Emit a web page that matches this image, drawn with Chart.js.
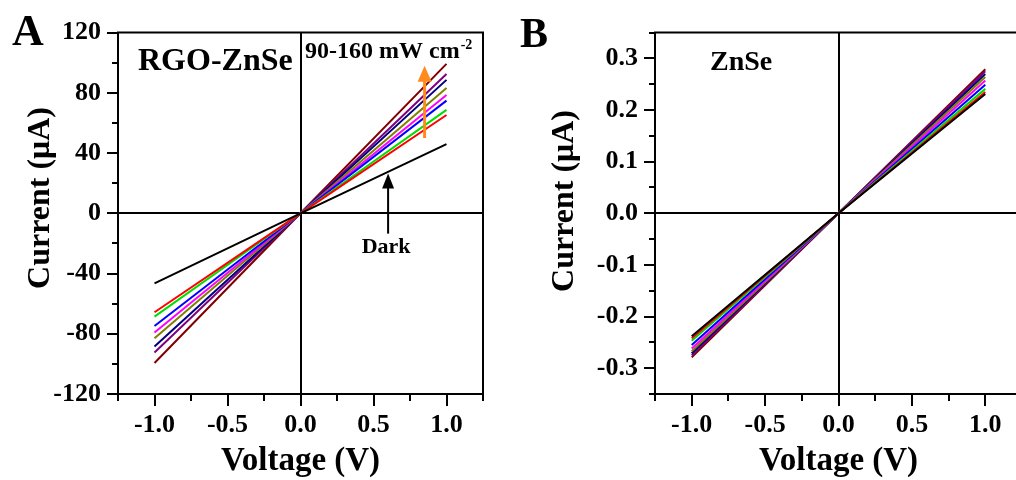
<!DOCTYPE html>
<html>
<head>
<meta charset="utf-8">
<script src="https://cdn.jsdelivr.net/npm/chart.js@4.4.0/dist/chart.umd.min.js"></script>
<style>
  html, body { margin: 0; padding: 0; background: #fff; overflow: hidden; }
  #wrap { position: relative; width: 1016px; height: 480px; overflow: hidden; }
  #cA { position: absolute; left: 0; top: 0; }
  #cB { position: absolute; left: 508px; top: 0; }
</style>
</head>
<body>
<div id="wrap">
  <canvas id="cA" width="508" height="480"></canvas>
  <canvas id="cB" width="540" height="480"></canvas>
</div>
<script>
// I-V sweep points (V)
const voltage = [-1.0, 0.0, 1.0];

// series: dark + 90..160 mW cm-2
const seriesNames = ["Dark", "90", "100", "110", "120", "130", "140", "150", "160"];
const seriesColors = ["#000000", "#ff0000", "#00dd00", "#0000ff", "#ff00ff", "#808000", "#000080", "#800080", "#800000"];

// panel A, RGO-ZnSe, current in uA
const currentA = [
  [-46.5, 0, 46.0],
  [-65.7, 0, 65.3],
  [-68.6, 0, 68.7],
  [-74.8, 0, 74.8],
  [-79.2, 0, 78.6],
  [-83.0, 0, 83.2],
  [-88.5, 0, 88.6],
  [-92.5, 0, 92.5],
  [-99.4, 0, 99.2],
];

// panel B, ZnSe, current in uA
const currentB = [
  [-0.238, 0, 0.231],
  [-0.242, 0, 0.235],
  [-0.247, 0, 0.241],
  [-0.255, 0, 0.249],
  [-0.262, 0, 0.257],
  [-0.267, 0, 0.264],
  [-0.271, 0, 0.270],
  [-0.275, 0, 0.275],
  [-0.279, 0, 0.279],
];

const xTickValues = [-1.25, -1.0, -0.75, -0.5, -0.25, 0, 0.25, 0.5, 0.75, 1.0, 1.25];
const xTickLabels = ["", "-1.0", "", "-0.5", "", "0.0", "", "0.5", "", "1.0", ""];
const yTickValuesA = [-120, -100, -80, -60, -40, -20, 0, 20, 40, 60, 80, 100, 120];
const yTickLabelsA = ["-120", "", "-80", "", "-40", "", "0", "", "40", "", "80", "", "120"];
const yTickValuesB = [-0.35, -0.3, -0.25, -0.2, -0.15, -0.1, -0.05, 0, 0.05, 0.1, 0.15, 0.2, 0.25, 0.3, 0.35];
const yTickLabelsB = ["", "-0.3", "", "-0.2", "", "-0.1", "", "0.0", "", "0.1", "", "0.2", "", "0.3", ""];

const FONT = "'Liberation Serif', 'Times New Roman', serif";
Chart.defaults.font.family = FONT;
Chart.defaults.font.weight = "bold";
Chart.defaults.color = "#000";

// zero lines under the curves; ticks, frame, labels on top
const framePlugin = {
  id: "frame",
  beforeDatasetsDraw(chart) {
    const { ctx, chartArea: a, scales: { x, y } } = chart;
    const x0 = Math.round(x.getPixelForValue(0));
    const y0 = Math.round(y.getPixelForValue(0));
    ctx.save();
    ctx.strokeStyle = "#000";
    ctx.lineWidth = 2;
    ctx.beginPath();
    ctx.moveTo(x0, a.top);
    ctx.lineTo(x0, a.bottom);
    ctx.moveTo(a.left, y0);
    ctx.lineTo(a.right, y0);
    ctx.stroke();
    ctx.restore();
  },
  afterDraw(chart, args, opts) {
    const { ctx, chartArea: a, scales: { x, y } } = chart;
    ctx.save();
    ctx.strokeStyle = "#000";
    ctx.lineWidth = 2;
    ctx.beginPath();
    x.ticks.forEach((t, i) => {
      const px = Math.round(x.getPixelForValue(t.value));
      const len = opts.xLabels[i] ? 12 : 7;
      ctx.moveTo(px, a.bottom);
      ctx.lineTo(px, a.bottom + len);
    });
    y.ticks.forEach((t, i) => {
      const py = Math.round(y.getPixelForValue(t.value));
      const len = opts.yLabels[i] ? 11 : 6;
      ctx.moveTo(a.left, py);
      ctx.lineTo(a.left - len, py);
    });
    ctx.moveTo(a.left - 1, a.top);
    ctx.lineTo(a.right, a.top);
    ctx.lineTo(a.right, a.bottom + 1);
    ctx.stroke();

    // y axis title
    ctx.save();
    ctx.translate(opts.yTitleX, opts.yTitleY);
    ctx.rotate(-Math.PI / 2);
    ctx.fillStyle = "#000";
    ctx.font = "bold 32px " + FONT;
    ctx.textAlign = "center";
    ctx.textBaseline = "middle";
    ctx.fillText("Current (\u03bcA)", 0, 0);
    ctx.restore();

    if (opts.draw) opts.draw(chart, ctx);
    ctx.restore();
  },
};

function arrow(ctx, x, yTail, yTip, headW, headH, shaft, color) {
  ctx.strokeStyle = color;
  ctx.fillStyle = color;
  ctx.lineWidth = shaft;
  ctx.beginPath();
  ctx.moveTo(x, yTail);
  ctx.lineTo(x, yTip + headH - 1);
  ctx.stroke();
  ctx.beginPath();
  ctx.moveTo(x, yTip);
  ctx.lineTo(x - headW / 2, yTip + headH);
  ctx.lineTo(x + headW / 2, yTip + headH);
  ctx.closePath();
  ctx.fill();
}

function makePanel(canvas, cfg) {
  return new Chart(canvas, {
    type: "line",
    data: {
      datasets: seriesNames.map((name, i) => ({
        label: name,
        data: voltage.map((v, k) => ({ x: v, y: cfg.values[i][k] })),
        borderColor: seriesColors[i],
        borderWidth: 2,
        pointRadius: 0,
        tension: 0,
        fill: false,
      })),
    },
    options: {
      responsive: false,
      animation: false,
      devicePixelRatio: 1,
      layout: { padding: { top: cfg.top, right: cfg.right, left: 0, bottom: 0 } },
      plugins: {
        legend: { display: false },
        tooltip: { enabled: false },
        frame: {
          xLabels: xTickLabels,
          yLabels: cfg.yLabels,
          yTitleX: cfg.yTitleX,
          yTitleY: cfg.yTitleY,
          draw: cfg.draw,
        },
      },
      scales: {
        x: {
          type: "linear",
          min: -1.25,
          max: 1.25,
          afterBuildTicks: (s) => { s.ticks = xTickValues.map((v) => ({ value: v })); },
          afterFit: (s) => { s.height = 86; },
          ticks: {
            autoSkip: false,
            maxRotation: 0,
            padding: 16,
            font: { size: 26, weight: "bold" },
            callback: (v, i) => xTickLabels[i],
          },
          grid: { display: false, drawTicks: false },
          border: { display: true, color: "#000", width: 2 },
          title: {
            display: true,
            text: "Voltage (V)",
            font: { size: 33, weight: "bold", lineHeight: 1.1 },
            padding: { top: 0, bottom: 0 },
          },
        },
        y: {
          min: cfg.yMin,
          max: cfg.yMax,
          afterBuildTicks: (s) => { s.ticks = cfg.yValues.map((v) => ({ value: v })); },
          afterFit: (s) => { s.width = cfg.left; },
          ticks: {
            autoSkip: false,
            padding: 17,
            font: { size: 26, weight: "bold" },
            callback: (v, i) => cfg.yLabels[i],
          },
          grid: { display: false, drawTicks: false },
          border: { display: true, color: "#000", width: 2 },
          title: { display: false },
        },
      },
    },
    plugins: [framePlugin],
  });
}

makePanel(document.getElementById("cA"), {
  values: currentA,
  yMin: -120,
  yMax: 120,
  yValues: yTickValuesA,
  yLabels: yTickLabelsA,
  top: 32,
  right: 25,
  left: 118,
  yTitleX: 41,
  yTitleY: 198,
  draw(chart, ctx) {
    const { x, y } = chart.scales;
    ctx.fillStyle = "#000";
    ctx.textBaseline = "alphabetic";
    ctx.textAlign = "left";
    ctx.font = "bold 44px " + FONT;
    ctx.fillText("A", 12, 45);
    ctx.font = "bold 32px " + FONT;
    ctx.fillText("RGO-ZnSe", 138, 70);
    ctx.font = "bold 24px " + FONT;
    ctx.fillText("90-160 mW cm", 305, 58);
    const w = ctx.measureText("90-160 mW cm").width;
    ctx.font = "bold 14px " + FONT;
    ctx.fillText("-2", 305 + w + 1, 49);
    ctx.font = "bold 22px " + FONT;
    ctx.textAlign = "center";
    ctx.fillText("Dark", x.getPixelForValue(0.6) - 2, 253);
    // light-intensity arrow
    arrow(ctx, x.getPixelForValue(0.85), y.getPixelForValue(50), y.getPixelForValue(98), 14, 16, 3, "#ff8a1e");
    // dark curve pointer
    arrow(ctx, x.getPixelForValue(0.6), y.getPixelForValue(-13.5), y.getPixelForValue(26.4), 12, 15, 2, "#000");
  },
});

makePanel(document.getElementById("cB"), {
  values: currentB,
  yMin: -0.35,
  yMax: 0.35,
  yValues: yTickValuesB,
  yLabels: yTickLabelsB,
  top: 30,
  right: 26,
  left: 147,
  yTitleX: 57,
  yTitleY: 201,
  draw(chart, ctx) {
    ctx.fillStyle = "#000";
    ctx.textBaseline = "alphabetic";
    ctx.textAlign = "left";
    ctx.font = "bold 42px " + FONT;
    ctx.fillText("B", 12, 47);
    ctx.font = "bold 28px " + FONT;
    ctx.fillText("ZnSe", 202, 70);
  },
});
</script>
</body>
</html>
